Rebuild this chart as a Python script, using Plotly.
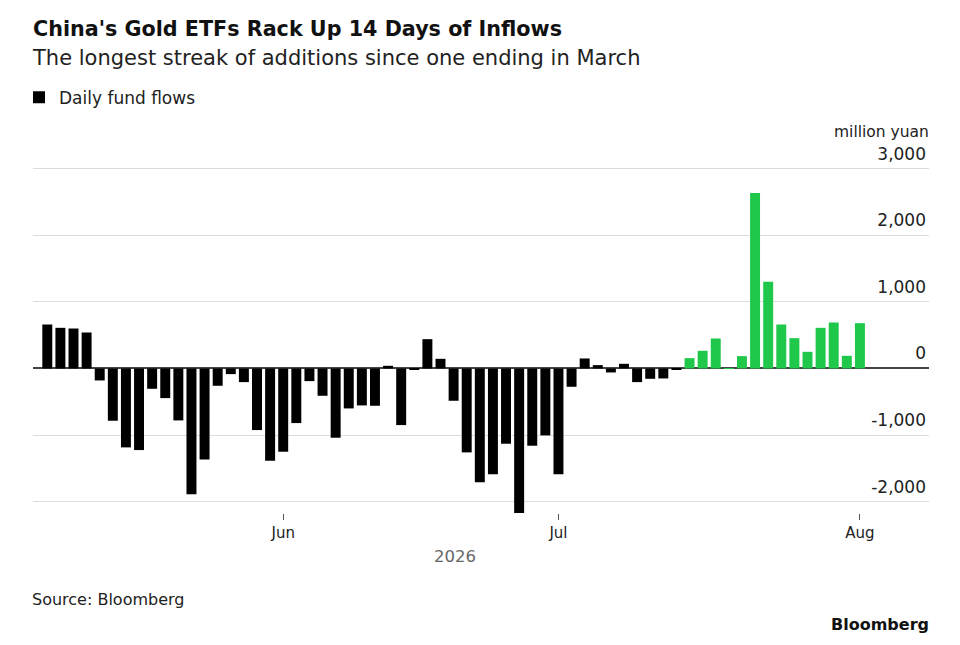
import plotly.graph_objects as go

dates = (
    ["2026-05-%02d" % d for d in [6, 7, 8, 11, 12, 13, 14, 15, 18, 19, 20, 21, 22, 25, 26, 27, 28, 29]]
    + ["2026-06-%02d" % d for d in [1, 2, 3, 4, 5, 8, 9, 10, 11, 12, 15, 16, 17, 18, 22, 23, 24, 25, 26, 29, 30]]
    + ["2026-07-%02d" % d for d in [1, 2, 3, 6, 7, 8, 9, 10, 13, 14, 15, 16, 17, 20, 21, 22, 23, 24, 27, 28, 29, 30, 31]]
    + ["2026-08-03"]
)

flows = [
    660, 610, 600, 540, -180, -785, -1185, -1225, -305, -445,
    -780, -1890, -1365, -260, -85, -205, -925, -1385, -1250, -820,
    -190, -410, -1040, -600, -555, -560, 40, -850, -20, 440,
    145, -485, -1260, -1710, -1590, -1130, -2175, -1160, -1005, -1590,
    -275, 150, 50, -60, 70, -205, -155, -150, -10, 155,
    265, 450, 5, 185, 2635, 1300, 660, 455, 250, 610,
    690, 190, 680,
]

streak_start = "2026-07-15"

month_ticks = ["2026-06-01", "2026-07-01", "2026-08-03"]
month_labels = ["Jun", "Jul", "Aug"]

y_ticks = [-2000, -1000, 0, 1000, 2000, 3000]
y_labels = ["-2,000", "-1,000", "0", "1,000", "2,000", "3,000"]

colors = ["#1fc84a" if d >= streak_start else "#000000" for d in dates]

FONT = "DejaVu Sans, Inter, Arial, sans-serif"

# the page shows the figure 8 px in from the top-left corner
OFF = 8
# plot area in reference-screen pixels
L, R, T, B = 33 - OFF, 929 - OFF, 141.5 - OFF, 513 - OFF


def px(x):
    return (x - OFF - L) / (R - L)


def py(y):
    return (B - (y - OFF)) / (B - T)


fig = go.Figure()
fig.add_trace(go.Bar(
    x=dates, y=flows, name="Daily fund flows",
    marker=dict(color=colors, line=dict(width=0)),
    showlegend=True,
))

fig.update_layout(
    width=960, height=645,
    paper_bgcolor="white", plot_bgcolor="white",
    margin=dict(l=L, r=960 - R, t=T, b=645 - B, autoexpand=False),
    bargap=0.24,
    font=dict(family=FONT, color="#222"),
    title=dict(
        text="<b>China's Gold ETFs Rack Up 14 Days of Inflows</b>",
        x=(33 - OFF) / 960, xanchor="left", xref="container",
        y=1 - (29 - OFF) / 645, yanchor="middle", yref="container",
        font=dict(size=20.7, color="#111", family=FONT),
    ),
    showlegend=True,
    legend=dict(
        xref="paper", yref="paper",
        x=px(19), y=py(79), xanchor="left", yanchor="top",
        font=dict(size=17, color="#222", family=FONT),
        itemwidth=30, bgcolor="rgba(0,0,0,0)",
    ),
    xaxis=dict(
        type="category",
        range=[-1.09, 67.27],
        tickmode="array", tickvals=month_ticks, ticktext=month_labels,
        ticks="outside", ticklen=6, tickcolor="#555", tickwidth=1,
        showgrid=False, showline=False, zeroline=False,
        tickfont=dict(size=15, color="#222"),
    ),
    yaxis=dict(
        range=[-2170, 3400],
        side="right",
        tickmode="array", tickvals=y_ticks, ticktext=y_labels,
        ticklabelposition="inside",
        ticklabelshift=-15,
        ticklabelstandoff=0,
        ticks="",
        showgrid=True, gridcolor="#dcdcdc", gridwidth=1,
        zeroline=True, zerolinecolor="#444", zerolinewidth=1.5,
        showline=False,
        tickfont=dict(size=17, color="#222"),
    ),
    annotations=[
        dict(text="The longest streak of additions since one ending in March",
             xref="paper", yref="paper",
             x=px(29.5), y=py(57), xanchor="left", yanchor="middle",
             showarrow=False, font=dict(size=21, color="#222")),
        dict(text="million yuan", xref="paper", yref="paper",
             x=px(931), y=py(131), xanchor="right", yanchor="middle",
             showarrow=False, font=dict(size=15.5, color="#222")),
        dict(text="2026", xref="paper", yref="paper",
             x=px(455), y=py(557), xanchor="center", yanchor="middle",
             showarrow=False, font=dict(size=16.5, color="#666")),
        dict(text="Source: Bloomberg", xref="paper", yref="paper",
             x=px(30), y=py(600), xanchor="left", yanchor="middle",
             showarrow=False, font=dict(size=16, color="#222")),
        dict(text="<b>Bloomberg</b>", xref="paper", yref="paper",
             x=px(931), y=py(625), xanchor="right", yanchor="middle",
             showarrow=False, font=dict(size=16, color="#111")),
    ],
)

fig.write_html("out.html")
